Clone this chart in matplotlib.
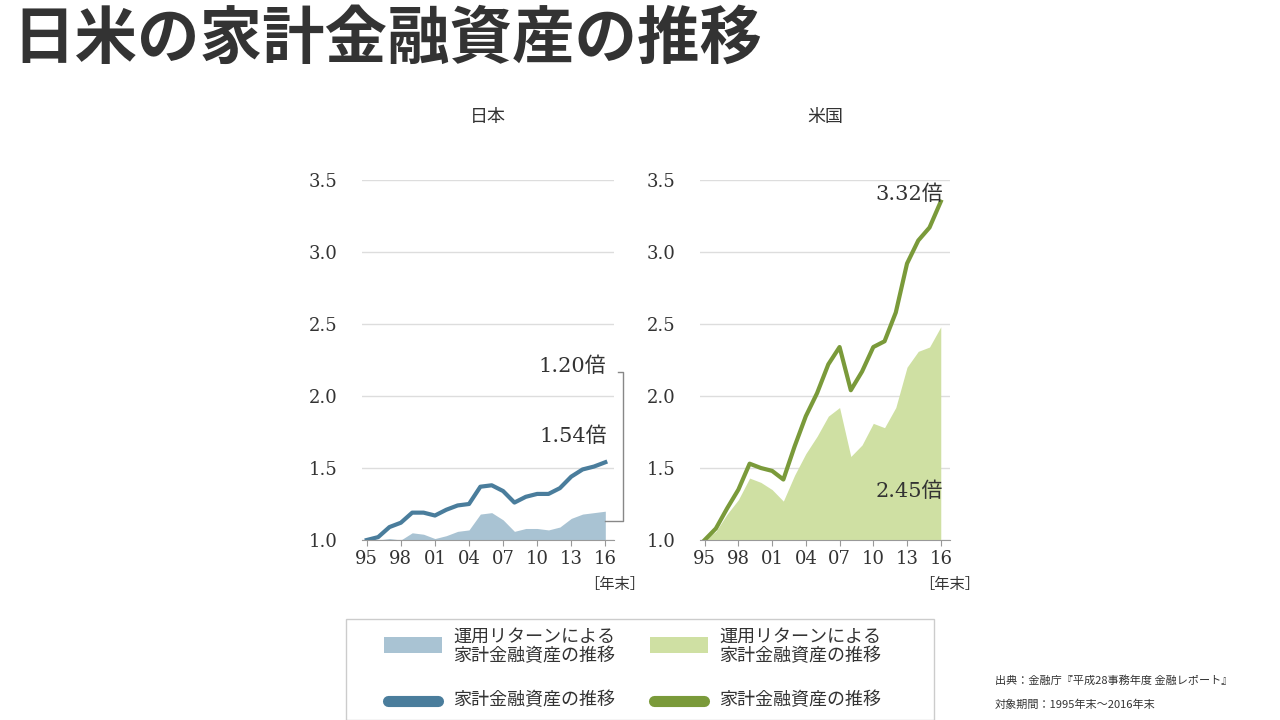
import numpy as np
import matplotlib.pyplot as plt
from matplotlib.patches import Rectangle

plt.rcParams['font.family'] = ['Noto Sans CJK JP', 'DejaVu Sans']
SERIF = ['DejaVu Serif', 'Noto Sans CJK JP']

YEARS = list(range(1995, 2017))
TICK_YEARS = [1995, 1998, 2001, 2004, 2007, 2010, 2013, 2016]
TICK_LABELS = ["95", "98", "01", "04", "07", "10", "13", "16"]

JP_TOTAL = [1.00, 1.02, 1.09, 1.12, 1.19, 1.19, 1.17, 1.21, 1.24, 1.25, 1.37,
            1.38, 1.34, 1.26, 1.30, 1.32, 1.32, 1.36, 1.44, 1.49, 1.51, 1.54]
JP_RETURN = [1.00, 1.00, 1.01, 1.00, 1.05, 1.04, 1.01, 1.03, 1.06, 1.07, 1.18,
             1.19, 1.14, 1.06, 1.08, 1.08, 1.07, 1.09, 1.15, 1.18, 1.19, 1.20]
US_TOTAL = [1.00, 1.08, 1.22, 1.35, 1.53, 1.50, 1.48, 1.42, 1.65, 1.86, 2.02,
            2.22, 2.34, 2.04, 2.17, 2.34, 2.38, 2.58, 2.92, 3.08, 3.17, 3.35]
US_RETURN = [1.00, 1.06, 1.18, 1.28, 1.43, 1.40, 1.35, 1.27, 1.45, 1.60, 1.72,
             1.86, 1.92, 1.58, 1.66, 1.81, 1.78, 1.92, 2.20, 2.31, 2.34, 2.48]

JP_LINE, JP_FILL = "#4a7d9c", "#a9c3d3"
US_LINE, US_FILL = "#7a9a3a", "#cfe0a3"
TXT = "#333333"

fig = plt.figure(figsize=(12.8, 7.2), dpi=100)
fig.text(0.010, 0.945, "日米の家計金融資産の推移", fontsize=45, fontweight='bold',
         color=TXT, va='center', ha='left')


def panel(rect, title, total, ret, lc, fc):
    ax = fig.add_axes(rect)
    ax.fill_between(YEARS, 1.0, ret, color=fc, lw=0)
    ax.plot(YEARS, total, color=lc, lw=3, solid_joinstyle='round')
    ax.set_ylim(1.0, 3.5)
    ax.set_xlim(1994.6, 2016.8)
    ax.set_yticks([1.0, 1.5, 2.0, 2.5, 3.0, 3.5])
    ax.set_yticklabels(["1.0", "1.5", "2.0", "2.5", "3.0", "3.5"], family=SERIF)
    ax.set_xticks(TICK_YEARS)
    ax.set_xticklabels(TICK_LABELS, family=SERIF)
    ax.tick_params(axis='y', length=0, labelsize=13, pad=18, colors=TXT)
    ax.tick_params(axis='x', length=4, labelsize=13, colors=TXT, color='#999999')
    ax.grid(axis='y', color='#dddddd', lw=1)
    ax.set_axisbelow(True)
    for s in ["top", "right", "left"]:
        ax.spines[s].set_visible(False)
    ax.spines["bottom"].set_color('#999999')
    ax.set_title(title, fontsize=13, color=TXT, pad=42)
    ax.text(1.0, -0.1, "［年末］", transform=ax.transAxes, fontsize=11,
            color=TXT, ha='center', va='top')
    return ax


ax1 = panel([0.283, 0.25, 0.197, 0.5], "日本", JP_TOTAL, JP_RETURN, JP_LINE, JP_FILL)
ax1.text(2016.1, 1.68, "1.54倍", fontsize=15, family=SERIF, color=TXT, ha='right')
ax1.text(2016.1, 2.17, "1.20倍", fontsize=15, family=SERIF, color=TXT, ha='right')
ax1.plot([2016.0, 2017.6, 2017.6, 2017.1], [1.13, 1.13, 2.17, 2.17],
         color='#888888', lw=1, clip_on=False)

ax2 = panel([0.547, 0.25, 0.195, 0.5], "米国", US_TOTAL, US_RETURN, US_LINE, US_FILL)
ax2.text(2016.2, 3.4, "3.32倍", fontsize=15, family=SERIF, color=TXT, ha='right', va='center')
ax2.text(2016.2, 1.3, "2.45倍", fontsize=15, family=SERIF, color=TXT, ha='right')

# legend box
fig.patches.append(Rectangle((0.27, 0.0), 0.46, 0.14, transform=fig.transFigure,
                             facecolor='white', edgecolor='#cccccc', lw=1))
fig.patches.append(Rectangle((0.30, 0.093), 0.045, 0.022, transform=fig.transFigure,
                             facecolor=JP_FILL, lw=0))
fig.patches.append(Rectangle((0.508, 0.093), 0.045, 0.022, transform=fig.transFigure,
                             facecolor=US_FILL, lw=0))
fig.lines.append(plt.Line2D([0.303, 0.342], [0.027, 0.027], transform=fig.transFigure,
                            color=JP_LINE, lw=8, solid_capstyle='round'))
fig.lines.append(plt.Line2D([0.511, 0.550], [0.027, 0.027], transform=fig.transFigure,
                            color=US_LINE, lw=8, solid_capstyle='round'))
for x in (0.354, 0.562):
    fig.text(x, 0.102, "運用リターンによる\n家計金融資産の推移", fontsize=13, color=TXT,
             va='center', linespacing=1.1)
    fig.text(x, 0.027, "家計金融資産の推移", fontsize=13, color=TXT, va='center')

fig.text(0.777, 0.05, "出典：金融庁『平成28事務年度 金融レポート』", fontsize=8, color=TXT)
fig.text(0.777, 0.017, "対象期間：1995年末〜2016年末", fontsize=8, color=TXT)

fig.savefig("out.png", dpi=100)
